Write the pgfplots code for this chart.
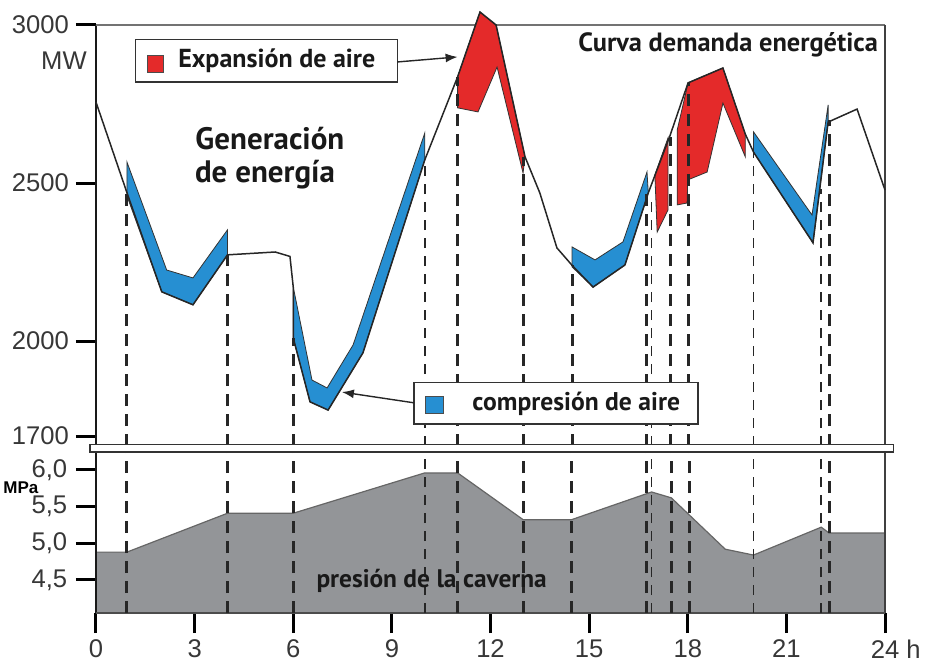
\documentclass[border=0pt]{standalone}
\usepackage{pgfplots}
\pgfplotsset{compat=1.18}
\usepackage{fontspec}
\setmainfont{Liberation Sans}
\newfontfamily\annot{PT Sans}
\usetikzlibrary{arrows.meta}
\definecolor{cred}{RGB}{228,42,42}
\definecolor{cblue}{RGB}{38,143,210}
\definecolor{cgray}{RGB}{147,149,152}
\definecolor{ctick}{RGB}{55,55,55}
\tikzset{
  vdash/.style={line width=1.5pt, dash pattern=on 6pt off 4pt, black!85},
  vthin/.style={line width=0.9pt, dash pattern=on 5pt off 4pt, black!85},
  band/.style={draw=black!80, line width=0.4pt},
  lab/.style={inner sep=0pt, text=black!90},
}
\begin{document}
\begin{tikzpicture}
\useasboundingbox (-48pt,-25.5pt) rectangle (417pt,306.5pt);
\pgfplotsset{
  common/.style={
    scale only axis, width=394.5pt, xmin=0, xmax=24, clip=false,
    axis line style={draw=none},
    tick style={line width=1.5pt, black},
    tick align=outside,
    major tick length=10pt,
    ticklabel style={font=\fontsize{12.8}{15}\selectfont, text=ctick},
    /pgf/number format/assume math mode=true,
  },
}
% ---------------- upper panel: power ----------------
\begin{axis}[common, at={(0,88.5pt)}, anchor=south west, height=205.5pt,
  ymin=1700, ymax=3000, xtick=\empty,
  ytick={1700,2000,2500,3000}, yticklabels={1700,2000,2500,3000}, ytick pos=left]
% axis frame
\draw[line width=1pt, black!90] (axis cs:0,1668) -- (axis cs:0,3000);
\draw[line width=0.7pt, black!55] (axis cs:0,3000) -- (axis cs:24,3000);
\draw[line width=0.7pt, black!75] (axis cs:24,3000) -- (axis cs:24,1668);
% compression bands (blue)
\addplot[fill=cblue, band] coordinates {(0.94,2567) (2.15,2225) (2.95,2200) (4.0,2352) (4.0,2273) (2.95,2115) (2.0,2156) (0.94,2460)} -- cycle;
\addplot[fill=cblue, band] coordinates {(6.0,2171) (6.57,1877) (7.03,1852) (7.82,1988) (10.0,2658) (10.0,2573) (8.12,1963) (7.06,1782) (6.51,1808) (6.0,2010)} -- cycle;
\addplot[fill=cblue, band] coordinates {(14.48,2298) (15.18,2257) (16.03,2314) (16.76,2535) (16.8,2469) (16.09,2241) (15.12,2171) (14.48,2235)} -- cycle;
\addplot[fill=cblue, band] coordinates {(20.0,2662) (21.78,2399) (22.27,2747) (22.27,2693) (21.81,2311) (20.0,2598)} -- cycle;
% expansion bands (red)
\addplot[fill=cred, band] coordinates {(11.0,2836) (11.68,3041) (12.17,3000) (13.05,2583) (12.99,2532) (12.2,2867) (11.62,2725) (11.0,2738)} -- cycle;
\addplot[fill=cred, band] coordinates {(17.0,2526) (17.4,2643) (17.4,2415) (17.07,2345)} -- cycle;
\addplot[fill=cred, band] coordinates {(17.68,2668) (18.01,2817) (19.07,2864) (19.75,2655) (19.75,2583) (19.07,2753) (18.59,2535) (18.0,2510) (17.98,2437) (17.68,2431)} -- cycle;
% demand curve
\addplot[black!85, line width=0.75pt] coordinates {(0,2756) (0.94,2470) (2.0,2156) (2.95,2115) (4.0,2273) (5.45,2282) (5.9,2268) (6.0,2171) (6.0,2010) (6.51,1808) (7.06,1782) (8.12,1963) (10.0,2573) (11.0,2836) (11.68,3041) (12.17,3000) (13.05,2583) (13.5,2469) (14.02,2295) (14.48,2240) (15.12,2171) (16.09,2241) (16.8,2469) (17.46,2650) (18.01,2817) (19.07,2864) (19.75,2655) (20.0,2598) (21.81,2311) (22.27,2693) (23.15,2734) (24,2478)};
% vertical dashed markers
\addplot[vdash] coordinates {(0.94,1668) (0.94,2470)};
\addplot[vdash] coordinates {(4.0,1668) (4.0,2273)};
\addplot[vdash] coordinates {(6.0,1668) (6.0,2010)};
\addplot[vthin] coordinates {(10.0,1668) (10.0,2573)};
\addplot[vdash] coordinates {(11.0,1668) (11.0,2836)};
\addplot[vdash] coordinates {(13.0,1668) (13.0,2583)};
\addplot[vdash] coordinates {(14.48,1668) (14.48,2240)};
\addplot[vdash] coordinates {(16.75,1668) (16.75,2469)};
\addplot[vthin] coordinates {(16.9,1668) (16.9,2440)};
\addplot[vdash] coordinates {(17.48,1668) (17.48,2646)};
\addplot[vdash] coordinates {(18.03,1668) (18.03,2817)};
\addplot[vthin] coordinates {(20.0,1668) (20.0,2598)};
\addplot[vthin] coordinates {(22.06,1668) (22.06,2480)};
\addplot[vdash] coordinates {(22.3,1668) (22.3,2700)};
% labels
\node[anchor=base east, inner sep=0pt, font=\fontsize{12.8}{15}\selectfont, text=ctick] at (axis cs:-0.27,2858) {MW};
\node[anchor=base, lab, font=\annot\bfseries\fontsize{15.5}{17}\selectfont] at (axis cs:5.29,2605) {Generación};
\node[anchor=base, lab, font=\annot\bfseries\fontsize{15.5}{17}\selectfont] at (axis cs:5.14,2503) {de energía};
\node[anchor=base, lab, font=\annot\bfseries\fontsize{13.2}{15}\selectfont] at (axis cs:19.23,2915) {Curva demanda energética};
% legend box: expansion
\draw[fill=white, draw=black!80, line width=0.6pt] (axis cs:1.19,2953) rectangle (axis cs:9.16,2820);
\draw[fill=cred, draw=black!70, line width=0.4pt] (axis cs:1.55,2905) rectangle (axis cs:2.04,2851);
\node[anchor=base west, lab, font=\annot\bfseries\fontsize{13}{15}\selectfont] at (axis cs:2.49,2864) {Expansión de aire};
\draw[-{Latex[length=6pt,width=4.5pt]}, line width=0.7pt, black!85] (axis cs:9.16,2883) -- (axis cs:11.0,2899);
% legend box: compression
\draw[fill=white, draw=black!80, line width=0.6pt] (axis cs:9.67,1868) rectangle (axis cs:18.31,1738);
\draw[fill=cblue, draw=black!70, line width=0.4pt] (axis cs:10.01,1824) rectangle (axis cs:10.56,1770);
\node[anchor=base west, lab, font=\annot\bfseries\fontsize{12.8}{15}\selectfont] at (axis cs:11.44,1782) {compresión de aire};
\draw[-{Latex[length=6pt,width=4.5pt]}, line width=0.7pt, black!85] (axis cs:9.67,1805) -- (axis cs:7.48,1839);
\end{axis}
% ---------------- lower panel: cavern pressure ----------------
\begin{axis}[common, at={(0,0)}, anchor=south west, height=80.5pt,
  ymin=4.05, ymax=6.245,
  xtick={0,3,...,24}, xticklabels={0,3,6,9,12,15,18,21,{24\rlap{\ h}}}, xtick pos=bottom,
  ytick={4.5,5,5.5,6}, yticklabels={{4,5},{5,0},{5,5},{6,0}}, ytick pos=left,
  yticklabel style={inner sep=0pt, xshift=-4.2pt}]
\addplot[fill=cgray, draw=none] coordinates {(0,4.88) (0.94,4.88) (4.0,5.41) (6.0,5.41) (10.0,5.96) (11.0,5.96) (13.0,5.32) (14.45,5.32) (16.9,5.70) (17.5,5.62) (19.14,4.92) (20.0,4.84) (22.06,5.22) (22.3,5.14) (24,5.14) (24,4.05) (0,4.05)} -- cycle;
\addplot[black!60, line width=0.6pt] coordinates {(0,4.88) (0.94,4.88) (4.0,5.41) (6.0,5.41) (10.0,5.96) (11.0,5.96) (13.0,5.32) (14.45,5.32) (16.9,5.70) (17.5,5.62) (19.14,4.92) (20.0,4.84) (22.06,5.22) (22.3,5.14) (24,5.14)};
\draw[line width=1pt, black!90] (axis cs:0,4.05) -- (axis cs:0,6.245);
\draw[line width=0.7pt, black!75] (axis cs:24,4.05) -- (axis cs:24,6.245);
\draw[line width=0.7pt, black!70] (axis cs:0,4.05) -- (axis cs:24,4.05);
\addplot[vdash] coordinates {(0.94,4.05) (0.94,6.245)};
\addplot[vdash] coordinates {(4.0,4.05) (4.0,6.245)};
\addplot[vdash] coordinates {(6.0,4.05) (6.0,6.245)};
\addplot[vthin] coordinates {(10.0,4.05) (10.0,6.245)};
\addplot[vdash] coordinates {(11.0,4.05) (11.0,6.245)};
\addplot[vdash] coordinates {(13.0,4.05) (13.0,6.245)};
\addplot[vdash] coordinates {(14.45,4.05) (14.45,6.245)};
\addplot[vdash] coordinates {(16.73,4.05) (16.73,6.245)};
\addplot[vthin] coordinates {(16.9,4.05) (16.9,6.245)};
\addplot[vdash] coordinates {(17.5,4.05) (17.5,6.245)};
\addplot[vdash] coordinates {(18.05,4.05) (18.05,6.245)};
\addplot[vthin] coordinates {(20.0,4.05) (20.0,6.245)};
\addplot[vthin] coordinates {(22.06,4.05) (22.06,6.245)};
\addplot[vdash] coordinates {(22.3,4.05) (22.3,6.245)};
\node[anchor=base east, inner sep=0pt, font=\bfseries\fontsize{8.5}{10}\selectfont] at (axis cs:-1.74,5.675) {MPa};
\node[anchor=base, lab, font=\annot\bfseries\fontsize{12.7}{15}\selectfont] at (axis cs:10.21,4.404) {presión de la caverna};
% axis break band
\draw[fill=white, draw=black!80, line width=0.6pt] (axis cs:-0.18,6.245) rectangle (axis cs:24.25,6.345);
\end{axis}
\end{tikzpicture}
\end{document}
